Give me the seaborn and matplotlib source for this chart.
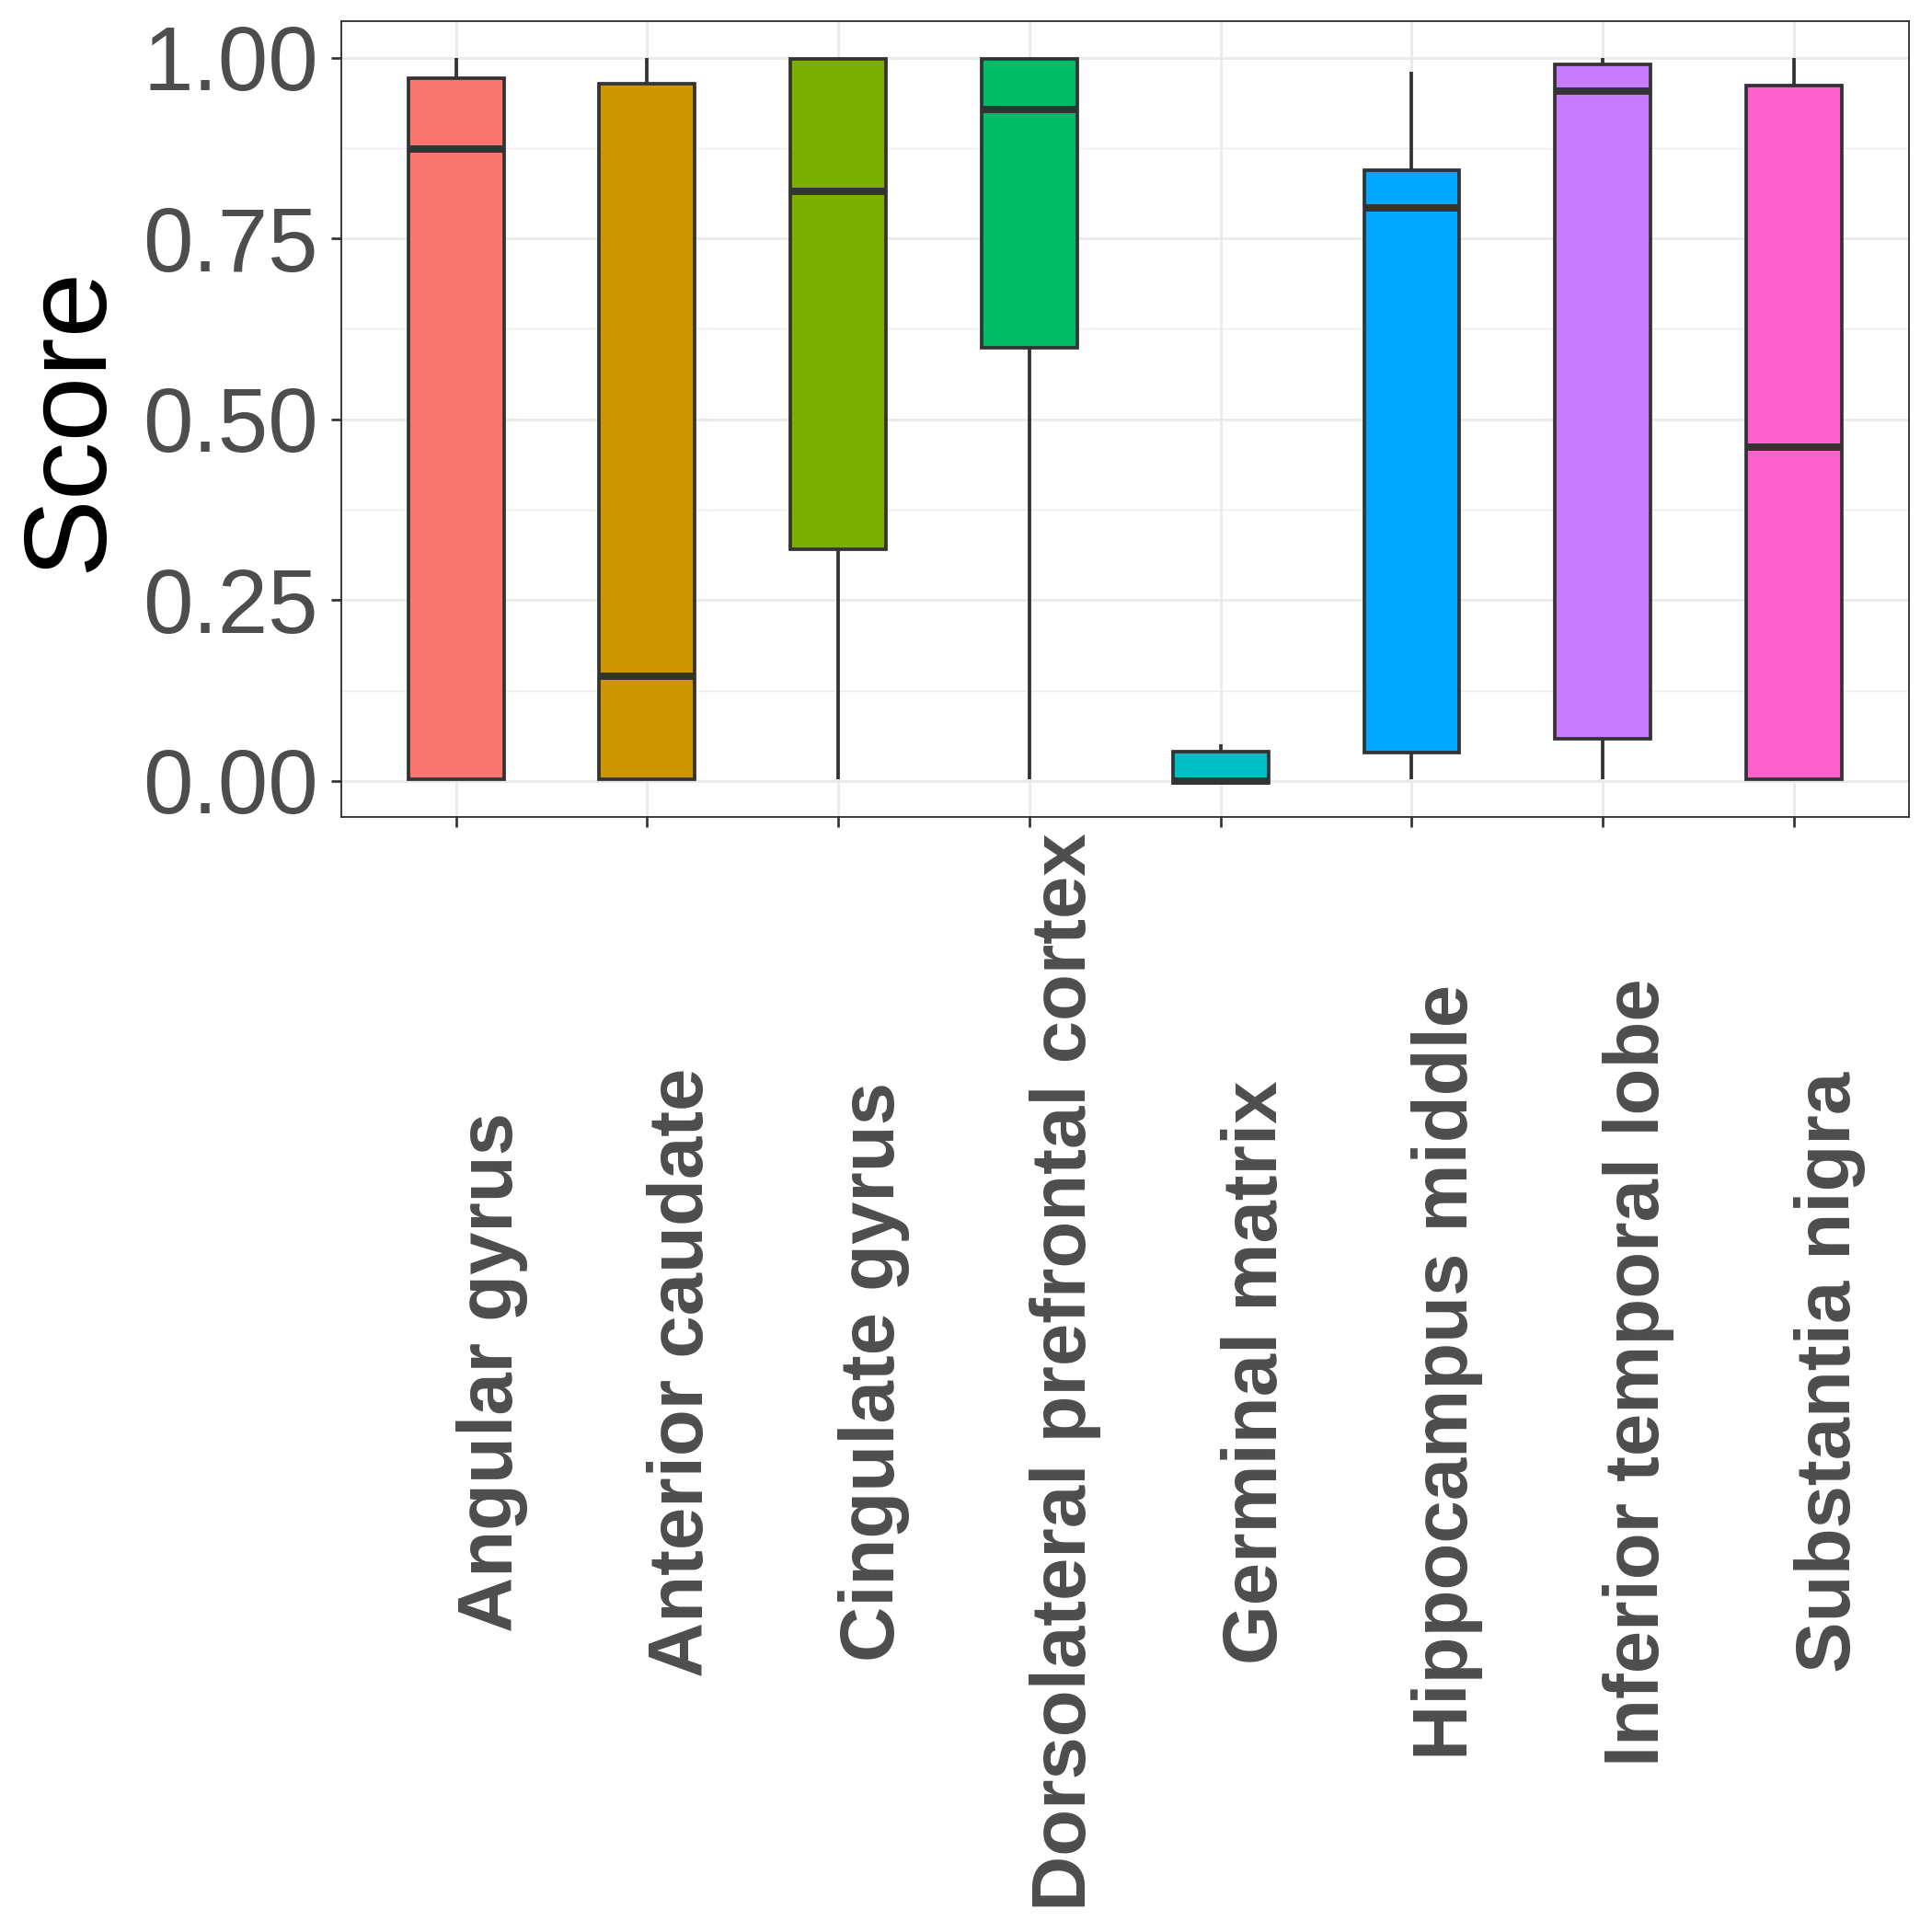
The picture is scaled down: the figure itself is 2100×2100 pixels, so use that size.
import numpy as np
import pandas as pd
import matplotlib
matplotlib.use("Agg")
import matplotlib.pyplot as plt
import seaborn as sns

# ---- data (five-number summaries) ----
tissues = ["Angular gyrus", "Anterior caudate", "Cingulate gyrus",
           "Dorsolateral prefrontal cortex", "Germinal matrix",
           "Hippocampus middle", "Inferior temporal lobe", "Substantia nigra"]
whisker_low = [0.002, 0.002, 0.002, 0.002, -0.002, 0.002, 0.002, 0.002]
q1          = [0.002, 0.002, 0.321, 0.599, -0.002, 0.039, 0.058, 0.002]
median      = [0.874, 0.145, 0.815, 0.928, 0.000, 0.792, 0.953, 0.461]
q3          = [0.971, 0.964, 0.998, 0.998, 0.041, 0.844, 0.991, 0.961]
whisker_high= [1.000, 1.000, 0.998, 0.998, 0.051, 0.980, 1.000, 1.000]
colors = ["#F8766D", "#CD9600", "#7CAE00", "#00BE67",
          "#00BFC4", "#00A9FF", "#C77CFF", "#FF61CC"]
yticks = [0.00, 0.25, 0.50, 0.75, 1.00]
ytick_labels = ["0.00", "0.25", "0.50", "0.75", "1.00"]

# long table: five values per tissue reproduce the quartiles exactly
rows = []
for i, t in enumerate(tissues):
    for v in (whisker_low[i], q1[i], median[i], q3[i], whisker_high[i]):
        rows.append({"tissue": t, "score": v})
df = pd.DataFrame(rows)

sns.set_style("white")
plt.rcParams["font.family"] = ["Liberation Sans", "DejaVu Sans"]

fig = plt.figure(figsize=(7, 7), dpi=300)
ax = fig.add_axes([0.17667, 0.57700, 0.81124, 0.41214])

sns.boxplot(data=df, x="tissue", y="score", hue="tissue", order=tissues,
            hue_order=tissues, palette=colors, legend=False, saturation=1,
            width=0.5, linecolor="#333333", linewidth=0.9, showfliers=False,
            medianprops={"linewidth": 1.9, "color": "#333333"},
            capprops={"linewidth": 0}, whis=1.5, ax=ax)

ax.set_xlim(-0.6, 7.6)
ax.set_ylim(-0.05, 1.0505)

ax.set_yticks(yticks)
ax.set_yticklabels(ytick_labels)
ax.set_yticks([0.125, 0.375, 0.625, 0.875], minor=True)
ax.set_xticks(range(len(tissues)))
ax.set_xticklabels(tissues, rotation=90, ha="left", va="center",
                   fontsize=20, fontweight="bold", color="#4D4D4D")

ax.set_axisbelow(True)
ax.grid(which="major", color="#EBEBEB", linewidth=0.7)
ax.grid(which="minor", axis="y", color="#EBEBEB", linewidth=0.35)

ax.tick_params(axis="y", which="major", length=2.75, width=0.65,
               color="#333333", labelsize=23.5, labelcolor="#4D4D4D", pad=3.3,
               left=True)
ax.tick_params(axis="x", which="major", length=2.75, width=0.65,
               color="#333333", pad=142, bottom=True)
ax.tick_params(which="minor", length=0)

for s in ax.spines.values():
    s.set_visible(True)
    s.set_color("#333333")
    s.set_linewidth(0.45)

ax.set_xlabel("")
ax.set_ylabel("Score", fontsize=30.5, color="black", va="baseline")
ax.yaxis.set_label_coords((110 - 371) / 1703.6, 0.5)

fig.savefig("out.png", dpi=300)
